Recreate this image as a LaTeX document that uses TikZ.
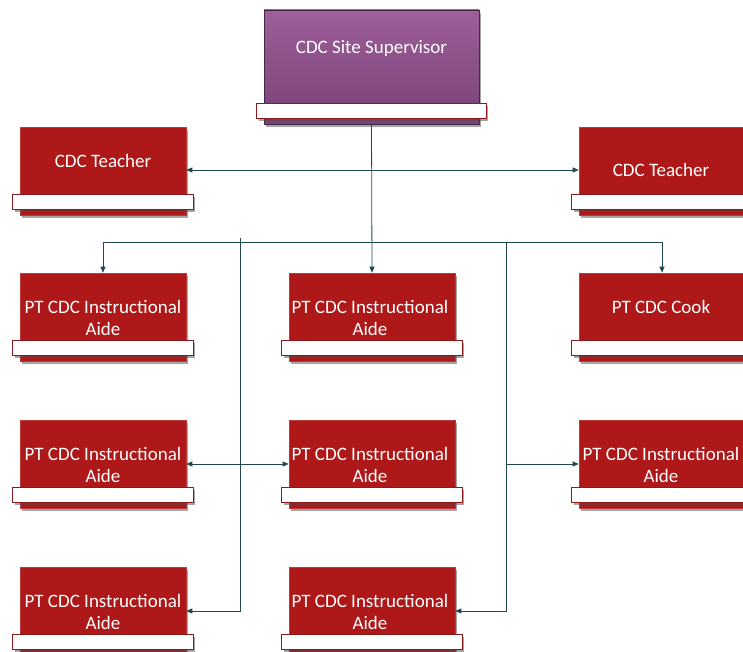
\documentclass[tikz,border=0pt]{standalone}
\usepackage{fontspec}
\setmainfont{Carlito}
\usetikzlibrary{arrows.meta,shadows}
\definecolor{boxred}{RGB}{174,24,24}
\definecolor{bardark}{RGB}{140,26,26}
\definecolor{suptop}{RGB}{158,95,154}
\definecolor{supbot}{RGB}{121,65,119}
\definecolor{supline}{RGB}{70,40,68}
\definecolor{conncol}{RGB}{30,74,78}
\tikzset{
  shad/.style={drop shadow={shadow xshift=2pt,shadow yshift=-3pt,opacity=0.5,fill=black!70}},
  redbox/.style={shape=rectangle,fill=boxred,draw=boxred!85!white,line width=0.6pt,minimum width=166pt,minimum height=88pt,inner sep=0pt,shad},
  supbox/.style={shape=rectangle,top color=suptop,bottom color=supbot,draw=supline,line width=0.6pt,minimum width=215pt,minimum height=114pt,inner sep=0pt,shad},
  whitebar/.style={fill=white,draw=bardark,line width=0.8pt,shad},
  lbl/.style={text=white,align=center,font=\fontsize{19}{22}\selectfont,inner sep=0pt},
  conn/.style={draw=conncol,line width=0.8pt},
  arr/.style={-{Triangle[length=6pt,width=5pt]}},
  darr/.style={{Triangle[length=6pt,width=5pt]}-{Triangle[length=6pt,width=5pt]}}
}
\newcommand\wbar[1]{\draw[whitebar] ([xshift=-7pt,yshift=6pt]#1.south west) rectangle ([xshift=7pt,yshift=21pt]#1.south east);}
\begin{document}
\begin{tikzpicture}[x=1pt,y=-1pt]
\useasboundingbox (0,0) rectangle (743,652);
% supervisor
\node[supbox] (sup) at (371.5,67) {};
\wbar{sup}
\node[lbl] (tsup) at (371.5,48) {CDC Site Supervisor};
% teachers
\node[redbox] (tl) at (103,171) {};
\wbar{tl}
\node[lbl] (ttl) at (103,161) {CDC Teacher};
\node[redbox] (tr) at (662,171) {};
\wbar{tr}
\node[lbl] (ttr) at (661,170) {CDC Teacher};
% row 2
\node[redbox] (l2) at (103,317) {};
\wbar{l2}
\node[lbl] (tl2) at (103,318) {PT CDC Instructional\\Aide};
\node[redbox] (m2) at (372,317) {};
\wbar{m2}
\node[lbl] (tm2) at (370,318) {PT CDC Instructional\\Aide};
\node[redbox] (r2) at (662,317) {};
\wbar{r2}
\node[lbl] (tr2) at (661,307) {PT CDC Cook};
% row 3
\node[redbox] (l3) at (103,464) {};
\wbar{l3}
\node[lbl] (tl3) at (103,465) {PT CDC Instructional\\Aide};
\node[redbox] (m3) at (372,464) {};
\wbar{m3}
\node[lbl] (tm3) at (370,465) {PT CDC Instructional\\Aide};
\node[redbox] (r3) at (662,464) {};
\wbar{r3}
\node[lbl] (tr3) at (661,465) {PT CDC Instructional\\Aide};
% row 4
\node[redbox] (l4) at (103,611) {};
\wbar{l4}
\node[lbl] (tl4) at (103,612) {PT CDC Instructional\\Aide};
\node[redbox] (m4) at (372,611) {};
\wbar{m4}
\node[lbl] (tm4) at (370,612) {PT CDC Instructional\\Aide};
% connectors
\coordinate (j1) at (371,170);
\coordinate (b1) at (371,242);
\coordinate (va) at (240,238);
\coordinate (vb) at (506,242);
\draw[conn,arr] (sup.south) -- (m2.north);
\draw[conn,darr] (tl.east |- j1) -- (tr.west |- j1);
\draw[conn,arr] (b1) -| (l2.north);
\draw[conn,arr] (b1) -| (r2.north);
\draw[conn,arr] (va) |- (l4.east);
\draw[conn,darr] (l3.east) -- (m3.west);
\draw[conn,arr] (vb) |- (m4.east);
\draw[conn,arr] (vb |- r3.west) -- (r3.west);
\end{tikzpicture}
\end{document}
